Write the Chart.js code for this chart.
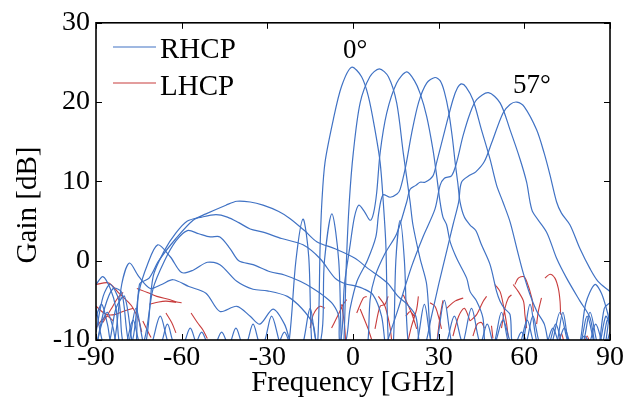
<!DOCTYPE html>
<html>
<head>
<meta charset="utf-8">
<script src="https://cdn.jsdelivr.net/npm/chart.js@4.4.0/dist/chart.umd.min.js"></script>
<style>
html, body { margin: 0; padding: 0; background: #fff; }
</style>
</head>
<body>
<canvas id="myChart" width="634" height="405"></canvas>
<script>
// Axis ticks
const xTicks = [-90, -60, -30, 0, 30, 60, 90];
const yTicks = [-10, 0, 10, 20, 30];

// RHCP beams, [angle, gain] (values below -10 are nulls)
const beam0 = [[-90,-11],[-88,-8],[-86,-6.5],[-84,-8.5],[-82.5,-11],[-80,-11],[-77,-7.5],[-74,-11],
  [-68,-11],[-65,-8],[-62,-11],[-56,-11],[-53,-9],[-50,-11],[-44,-11],[-41,-8.5],[-38,-11],
  [-32,-11],[-28.5,-7],[-25,-11],[-22.7,-11],[-20,0],[-17.5,5.25],[-15.5,0.5],[-14.3,-11],
  [-12.5,-11],[-11.5,2],[-10.9,7.4],[-9.8,12.4],[-6.9,17.8],[-4,22],[-0.5,24.4],[3,23.2],[5.4,20.7],
  [7.7,16.5],[9.5,12.4],[10.6,7.4],[11.5,2],[12.5,-11],[14,-11],[15,0],[16.5,5.1],[18,0],[19.5,-11],
  [22,-11],[25,-5.5],[28,-11],[32,-11],[35.5,-7],[39,-11],[44,-11],[47,-8],[50,-11],
  [56,-11],[59,-9],[62,-11],[67,-11],[70,-8.5],[73,-11],[78,-11],[81,-9.5],[84,-11],[86,-11],[88.5,-7],[90,-8]];

const beam9 = [[-90,-3],[-87.6,-2],[-85,-3.5],[-83,-6],[-81.5,-11],[-79,-11],[-76,-6],[-73,-11],
  [-71,-11],[-67.5,-7],[-64,-11],[-60,-11],[-57,-8.5],[-54,-11],[-49,-11],[-46,-9],[-43,-11],
  [-38,-11],[-35,-8],[-32,-11],[-27,-11],[-24,-9],[-21,-11],[-12,-11],[-10,0],[-7.4,5.9],[-5,0],[-4,-11],
  [-3.3,-11],[-2.3,0],[-1.3,7.4],[0.1,13.6],[2.5,19.9],[5.9,23.2],[9.2,24.2],[12.4,23.2],[15.3,19.9],
  [17.6,13.6],[20,7.4],[21,4.5],[23.5,0.25],[25.8,-3],[27.5,-11],[29,-11],[32,-5],[35,-11],
  [38,-11],[41.5,-6],[45,-11],[49,-11],[52.5,-7.5],[56,-11],[60,-11],[63,-7],[66,-11],
  [71,-11],[74,-8.5],[77,-11],[82,-11],[85,-8],[88,-11],[90,-9]];

const beam18 = [[-90,-6],[-87,-11],[-84,-11],[-81,-3],[-78.3,-0.3],[-75,-2],[-71,-3.5],[-67,-3],
  [-63,-2.4],[-57.5,-3.25],[-51.5,-4.1],[-46.6,-6.4],[-40.7,-5.75],[-36,-7],[-32.6,-8],[-28,-6.1],
  [-24,-8],[-21,-11],[-18,-11],[-15,-6],[-12,-11],[-5,-11],[-3,-3],[-1,2],[0.5,5.5],[2,7],[4,6.2],
  [6,5.1],[7.2,6],[8.3,8.6],[9.5,13.6],[11.8,18.6],[15.3,22.4],[18.8,23.8],[21.5,22.7],[23.5,21.1],
  [25.8,18.2],[28,14],[29.3,10.7],[30.5,7.4],[31.5,5.5],[32.8,4.5],[34,2.4],[36.3,0.3],[39.8,-2.2],
  [41,-3.9],[43.3,-5.1],[45.5,-7.2],[46.5,-11],[49,-11],[52,-6.5],[55,-11],[58,-11],[61,-7.5],[64,-11],
  [68,-11],[71,-8],[74,-11],[79,-11],[82,-7],[85,-11],[87,-11],[89,-7.5],[90,-8]];

const beam28 = [[-90,-7],[-88,-5.5],[-86,-8],[-84,-11],[-78,-11],[-75,-4],[-72,-0.5],[-68.4,2],
  [-64,0.5],[-60,-1.5],[-56,-1.2],[-51,-0.2],[-46.6,-0.5],[-40.7,-2.6],[-35,-3.6],[-30,-3.8],
  [-23,-4.5],[-18,-6],[-14,-8],[-12,-11],[-3.5,-11],[-1,-6],[1.4,-2.6],[5,0],[8,3],[9,6],[10.5,8.3],
  [13,8],[15.4,8.4],[16.5,9],[18.5,12],[20.5,16],[23,20],[25.8,22.4],[28.7,23.1],[30.5,22.7],
  [32,21.3],[33.5,18.8],[34.8,15.5],[35.8,12.3],[36.7,9.8],[37.5,7.4],[39,5.5],[41,4.5],[43,3.8],[45,2],[48,-0.5],
  [50.3,-3.9],[51.5,-5.1],[53,-6],[55,-6.8],[56,-11],[59,-11],[62,-5.5],[65,-11],[69,-11],[72.5,-6.5],
  [76,-11],[80,-11],[83,-6.5],[86,-11],[88,-11],[90,-6]];

const beam38 = [[-90,-9],[-87.5,-4.5],[-85,-3],[-82,-5],[-80,-11],[-74,-11],[-70,-3.5],[-66,0],
  [-62,2.5],[-58,3.8],[-54,3.4],[-50,3],[-46.6,3],[-43,1.5],[-40,0],[-35,-0.5],[-29,-1.4],[-24,-1.8],
  [-18.5,-2.6],[-14,-3.5],[-10,-4.5],[-7,-5.5],[-5,-7],[-4,-11],[4.5,-11],[5.3,-9.9],[6,-4.9],
  [7.7,-2],[11.2,0.9],[15.3,3.4],[18.8,7.4],[20,9],[22,9.5],[23.5,9.9],[25.2,9.9],[28,10.7],
  [29.3,12.4],[32.2,16.5],[35,20.3],[36.6,21.8],[38,22.3],[39.6,21.9],[42,20.3],[45,16.5],[48,12.8],[50.3,9.5],[52.5,7.4],
  [55,4.9],[57.4,1.5],[59.5,-1.4],[62,-4.3],[64.4,-6.4],[67,-8],[69,-11],[71,-11],[73.5,-6.5],
  [76,-11],[79,-11],[81.5,-5.4],[84.7,-3],[87,-4.1],[89,-6.4],[90,-8]];

const beam47 = [[-90,-11],[-87,-6],[-84,-3.5],[-81,-4],[-78,-11],[-73,-11],[-70,-2],[-66,1.3],
  [-62,3.5],[-58,5],[-53,5.5],[-48,5.8],[-44,5.5],[-40,4.8],[-36,4],[-31.5,3.6],[-25,2.8],[-17.5,2],
  [-11.5,0.25],[-6.3,-2.2],[-2.8,-2.9],[1,-3.2],[3.5,-3.5],[7,-4.3],[10,-7],[11.5,-11],[12.3,-9.9],
  [15.8,-6.1],[20.5,-0.75],[24.5,3],[28.7,6.5],[30.5,9.5],[32,10.4],[34.5,10.7],[36.3,12.4],
  [38.5,15.7],[41,18.6],[43.3,20.3],[47.4,21.2],[51.5,19.9],[55,16.5],[58.5,12.8],[60.8,9.9],[62,7.4],[63,6.1],
  [67.8,3.6],[71.3,0.3],[74.8,-2.2],[79.5,-5.1],[83,-7.2],[85,-11],[86,-11],[88,-6],[90,-5.3]];

const beam57 = [[-90,-11],[-86,-11],[-83,-6],[-80,-4.5],[-77,-11],[-76,-11],[-74.8,-3],[-71.4,-2.2],
  [-68,0],[-62,2.8],[-56,5.1],[-51.5,5.9],[-44.5,7],[-40.7,7.5],[-36,7.4],[-31.5,7],[-26,6.2],
  [-22,5.3],[-17,3.8],[-12.7,2.4],[-6.3,1.5],[0.7,0.3],[5.3,-1],[10,-2.2],[12.3,-2.9],[15.8,-4.5],
  [19,-5.5],[22,-7],[23.5,-11],[25,-11],[27.5,-7],[30,-3],[33,1.5],[35,4.5],[37,7.4],[38,9.9],
  [41,10.8],[43,11.2],[46,12.5],[48.6,14.9],[52.5,18.6],[55,19.7],[57.4,20],[60,19.4],[64.3,16.5],
  [67,13.5],[69,10.8],[71.3,7.4],[73,6],[76,4.5],[79.5,1.5],[83,-1],[85.8,-2.6],[90,-3.9]];

// LHCP fragments, each a short piece of curve
const lhcpPieces = [
  [[-90,-3],[-85.5,-2.8],[-82,-4.1],[-78.5,-5.3],[-77,-6],[-75,-7.5],[-74,-9]],
  [[-90,-5.75],[-86.5,-6.75],[-83.5,-6.8],[-80.6,-6.4],[-77,-6]],
  [[-87.6,-7.8],[-84.7,-6.1],[-82.4,-4.7],[-80.5,-4]],
  [[-90,-8.5],[-88,-7.5],[-86,-7],[-84,-7.6]],
  [[-75.7,-3.5],[-72,-4],[-68.7,-4.5],[-64.3,-4.9],[-61.7,-5.2],[-60,-5.3]],
  [[-71.3,-5.5],[-68,-5.2],[-65.5,-5.1],[-62,-5.25]],
  [[-65.5,-6.6],[-63.5,-7.8],[-62,-9.1]],
  [[-73.6,-7.6],[-72,-8.8],[-70.7,-9.7]],
  [[-56.7,-6.6],[-54.5,-7.8],[-52.6,-8.7],[-51,-9.8]],
  [[-15,-8.5],[-13.9,-6.8],[-11.6,-5.75],[-9.8,-6]],
  [[-7.5,-8.5],[-5.7,-7.2],[-3.4,-5.5],[-2.2,-4.9]],
  [[-4,-5.5],[-3,-8],[-2.5,-10.5]],
  [[1.3,-6.6],[3.6,-4.7],[4.8,-4.5]],
  [[2.5,-6.1],[5.3,-8.6],[6.5,-9.9]],
  [[8.9,-4.5],[11.2,-5.75],[12.9,-8.25],[13.5,-9.9]],
  [[7.7,-8.6],[9.5,-5.75],[11.2,-5.5],[12.3,-4.5]],
  [[17.6,-4.3],[20.5,-6.6],[22.3,-8.6]],
  [[18.5,-7],[20,-6.4],[21.5,-7]],
  [[22.9,-4.5],[22.3,-6.1],[20.5,-8.25],[19.4,-9.9]],
  [[27,-5.3],[28.7,-5.75],[29.9,-7],[31,-8.6]],
  [[31.5,-5],[30.5,-7],[29.5,-9.9]],
  [[32.8,-6],[35.7,-5.1],[38.6,-4.7]],
  [[35,-9.5],[37,-7],[39,-6],[41,-7.6]],
  [[41,-7.6],[43.3,-6.8],[45.6,-5.1],[46.8,-4.5]],
  [[42,-9.5],[43.5,-8],[45,-7.8],[46,-8.5]],
  [[49.7,-3],[51.5,-3.9],[52.6,-5.5],[53.8,-8],[54.4,-9.7]],
  [[52,-8.5],[53.2,-6],[54.4,-4.7],[55.5,-4.3]],
  [[56.7,-3],[57.9,-2.2],[59.7,-2],[60.8,-2.6],[62.6,-4.7],[63.2,-6.4]],
  [[56.1,-3],[57.9,-3.9],[59.7,-5.1],[60.2,-6.8],[60.8,-8.5]],
  [[66,-4.7],[64.9,-6.4],[64.3,-8]],
  [[67.2,-2.2],[69,-1.7],[70.7,-2.2],[71.9,-3.5],[72.5,-5.1],[72.7,-6.8]],
  [[48.5,-8.2],[49,-9.8]],
  [[72,-10.5],[73,-9.2],[74,-10.5]],
  [[81,-10.5],[82,-9.5],[83,-10.5]]
];

const RHCP_COLOR = 'rgb(64, 114, 196)';
const LHCP_COLOR = 'rgb(200, 60, 60)';
const SERIF = "'Liberation Serif', 'Times New Roman', serif";

function toPoints(pairs) {
    return pairs.map(p => ({ x: p[0], y: p[1] }));
}

// join fragments with null gaps so they draw as separate pieces
function joinPieces(pieces) {
    const out = [];
    pieces.forEach(piece => {
        piece.forEach(p => out.push({ x: p[0], y: p[1] }));
        out.push({ x: piece[piece.length - 1][0], y: null });
    });
    return out;
}

const beams = [beam0, beam9, beam18, beam28, beam38, beam47, beam57];

const datasets = beams.map((b, i) => ({
    label: 'RHCP ' + i,
    data: toPoints(b),
    borderColor: RHCP_COLOR,
    borderWidth: 1.2,
    pointRadius: 0,
    fill: false,
    tension: 0.3
}));

datasets.push({
    label: 'LHCP',
    data: joinPieces(lhcpPieces),
    borderColor: LHCP_COLOR,
    borderWidth: 1.1,
    pointRadius: 0,
    fill: false,
    spanGaps: false,
    tension: 0.3
});

// frame, inward ticks, legend and labels, drawn MATLAB style
const framePlugin = {
    id: 'frame',
    afterDatasetsDraw(chart) {
        const { ctx, chartArea: a, scales: { x, y } } = chart;
        ctx.save();
        ctx.strokeStyle = '#000';
        ctx.lineWidth = 1;
        const seg = (x1, y1, x2, y2) => { ctx.beginPath(); ctx.moveTo(x1, y1); ctx.lineTo(x2, y2); ctx.stroke(); };
        xTicks.forEach(v => {
            const px = Math.round(x.getPixelForValue(v)) + 0.5;
            seg(px, a.bottom, px, a.bottom - 6);
            seg(px, a.top, px, a.top + 6);
        });
        yTicks.forEach(v => {
            const py = Math.round(y.getPixelForValue(v)) + 0.5;
            seg(a.left, py, a.left + 6, py);
            seg(a.right, py, a.right - 6, py);
        });
        ctx.lineWidth = 1.6;
        ctx.strokeRect(a.left, a.top, a.right - a.left, a.bottom - a.top);

        // legend
        ctx.lineWidth = 1.2;
        ctx.strokeStyle = RHCP_COLOR;
        seg(113, 47, 156, 47);
        ctx.strokeStyle = LHCP_COLOR;
        seg(113, 83, 156, 83);
        ctx.fillStyle = '#000';
        ctx.font = '29px ' + SERIF;
        ctx.textAlign = 'left';
        ctx.textBaseline = 'alphabetic';
        ctx.fillText('RHCP', 160, 58);
        ctx.fillText('LHCP', 160, 95);

        // beam angle labels
        ctx.font = '27px ' + SERIF;
        ctx.fillText('0°', x.getPixelForValue(-3.5), 58);
        ctx.fillText('57°', x.getPixelForValue(56), 93);

        // y axis title
        ctx.font = '29px ' + SERIF;
        ctx.textAlign = 'center';
        ctx.textBaseline = 'middle';
        ctx.translate(28, 205);
        ctx.rotate(-Math.PI / 2);
        ctx.fillText('Gain [dB]', 0, 0);
        ctx.restore();
    }
};

const ctx = document.getElementById('myChart').getContext('2d');
new Chart(ctx, {
    type: 'line',
    data: { datasets: datasets },
    options: {
        responsive: false,
        animation: false,
        layout: { padding: { top: 19, right: 24, left: 0, bottom: 0 } },
        plugins: { legend: { display: false }, tooltip: { enabled: false } },
        scales: {
            x: {
                type: 'linear',
                min: -90,
                max: 90,
                afterFit: s => { s.height = 65; },
                afterBuildTicks: s => { s.ticks = xTicks.map(v => ({ value: v })); },
                grid: { display: false, drawTicks: false },
                border: { display: false },
                ticks: {
                    color: '#000',
                    padding: 1,
                    maxRotation: 0,
                    font: { family: SERIF, size: 28 },
                    callback: v => String(v)
                },
                title: {
                    display: true,
                    text: 'Frequency [GHz]',
                    color: '#000',
                    font: { family: SERIF, size: 29 },
                    padding: { top: 0, bottom: 4 }
                }
            },
            y: {
                min: -10,
                max: 30,
                afterFit: s => { s.width = 96; },
                afterBuildTicks: s => { s.ticks = yTicks.map(v => ({ value: v })); },
                grid: { display: false, drawTicks: false },
                border: { display: false },
                ticks: {
                    color: '#000',
                    padding: 6,
                    font: { family: SERIF, size: 28 },
                    callback: v => String(v)
                }
            }
        }
    },
    plugins: [framePlugin]
});
</script>
</body>
</html>
